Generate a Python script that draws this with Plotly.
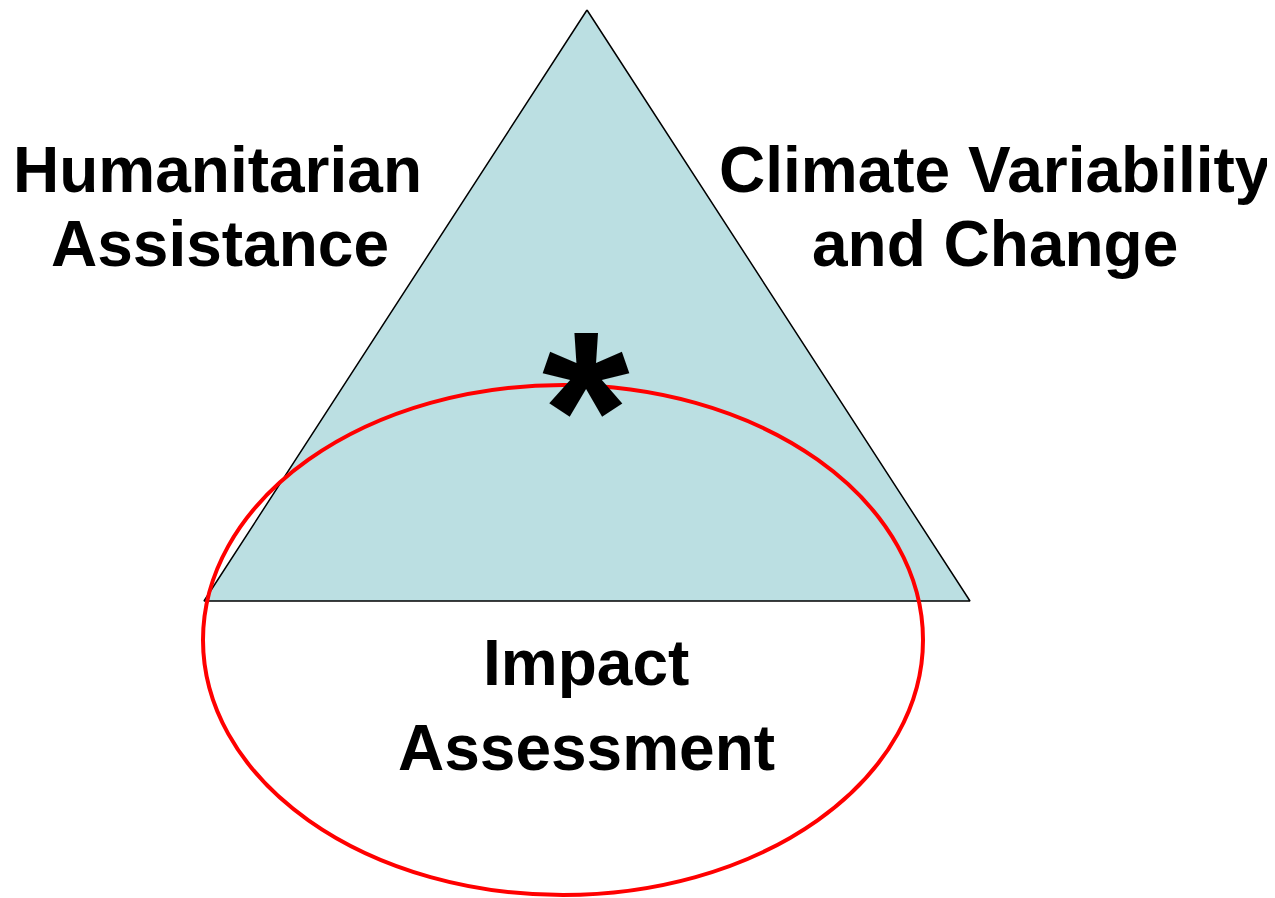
import plotly.graph_objects as go

# Diagram geometry (pixel-like data coordinates, y downward)
triangle_x = [587, 204, 970, 587]
triangle_y = [10, 601, 601, 10]
ellipse_center = (563, 640)
ellipse_radii = (360, 255)

label_text = ["Humanitarian", "Assistance", "Climate Variability", "and Change", "Impact", "Assessment"]
label_x = [217, 220, 995, 995, 586, 586]
label_y = [170, 244, 170, 244, 663, 748]

star_text = ["*"]
star_x = [586]
star_y = [410]

# The page body has an 8px margin; offset ranges so data units equal screen pixels
OFF = 8

fig = go.Figure()

fig.add_trace(go.Scatter(
    x=triangle_x, y=triangle_y, mode="lines", fill="toself",
    fillcolor="#BBDFE2", line=dict(color="black", width=1.5),
    hoverinfo="skip", showlegend=False,
))

cx, cy = ellipse_center
rx, ry = ellipse_radii
fig.add_shape(type="circle", xref="x", yref="y",
              x0=cx - rx, x1=cx + rx, y0=cy - ry, y1=cy + ry,
              line=dict(color="#FF0000", width=4), fillcolor="rgba(0,0,0,0)",
              layer="above")

for t, x, y in zip(label_text, label_x, label_y):
    fig.add_annotation(x=x, y=y, text=f"<b>{t}</b>", showarrow=False,
                       xanchor="center", yanchor="middle",
                       font=dict(family="Liberation Sans, Arial", size=64, color="black"))

for t, x, y in zip(star_text, star_x, star_y):
    fig.add_annotation(x=x, y=y, text=f"<b>{t}</b>", showarrow=False,
                       xanchor="center", yanchor="middle",
                       font=dict(family="Liberation Sans, Arial", size=225, color="black"))

fig.update_layout(
    width=1275, height=898,
    margin=dict(l=0, r=0, t=0, b=0),
    paper_bgcolor="white", plot_bgcolor="white",
    xaxis=dict(range=[OFF, 1275 + OFF], visible=False, fixedrange=True),
    yaxis=dict(range=[898 + OFF, OFF], visible=False, fixedrange=True),
)

fig.write_html("out.html")
